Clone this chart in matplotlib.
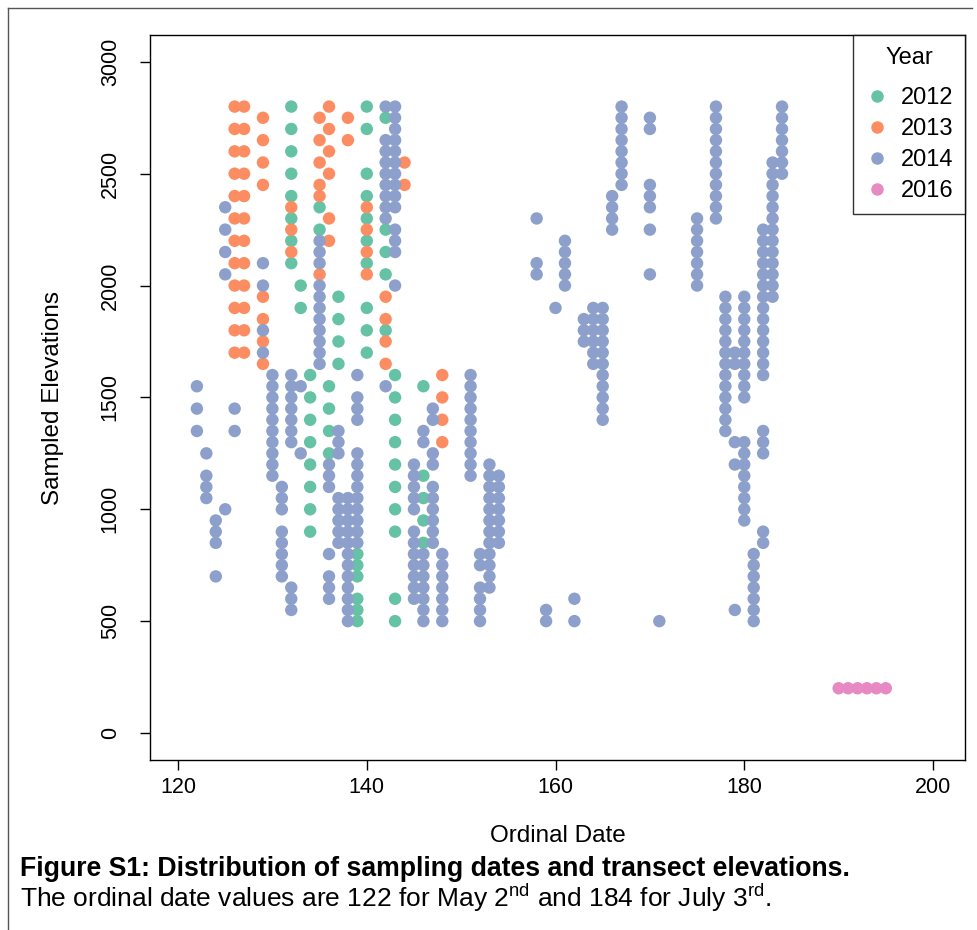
import matplotlib
matplotlib.use("Agg")
import matplotlib.pyplot as plt
from matplotlib.lines import Line2D

plt.rcParams['font.family'] = ['Liberation Sans', 'DejaVu Sans']
plt.rcParams['mathtext.fontset'] = 'custom'
plt.rcParams['mathtext.rm'] = 'Liberation Sans'

# elevations sampled on each ordinal date, per year
year_2012 = {
    132: [2800, 2700, 2600, 2500, 2400, 2300, 2200, 2100],
    133: [2000, 1900],
    134: [1600, 1500, 1400, 1300, 1200, 1100, 1000, 900],
    135: [2350, 2250],
    136: [1550, 1450, 1350, 1250],
    137: [1950, 1850, 1750, 1650],
    139: [800, 750, 700, 600, 550, 500],
    140: [2800, 2700, 2500, 2400, 2300, 2200, 2100, 1900, 1800, 1700],
    142: [2750, 2250, 2150, 2050, 1800],
    143: [1600, 1500, 1400, 1300, 1200, 1100, 1000, 900, 600, 500],
    146: [1550, 1150, 1050, 950, 850],
}

year_2013 = {
    126: [2800, 2700, 2600, 2500, 2400, 2300, 2200, 2100, 2000, 1900, 1800, 1700],
    127: [2800, 2700, 2600, 2500, 2400, 2300, 2200, 2100, 2000, 1900, 1800, 1700],
    129: [2750, 2650, 2550, 2450, 1950, 1850, 1750, 1650],
    132: [2350, 2250, 2150],
    135: [2750, 2650, 2550, 2450, 2400, 2050],
    136: [2800, 2700, 2600, 2500, 2300, 2200],
    138: [2750, 2650],
    140: [2350, 2250, 2150, 2050],
    142: [1950, 1850, 1750, 1650],
    144: [2550, 2450],
    148: [1600, 1500, 1400, 1300],
}

year_2014 = {
    122: [1550, 1450, 1350],
    123: [1250, 1150, 1100, 1050],
    124: [950, 900, 850, 700],
    125: [2350, 2250, 2150, 2050, 1000],
    126: [1450, 1350],
    129: [2100, 2000, 1800, 1700],
    130: [1600, 1550, 1500, 1450, 1400, 1350, 1300, 1250, 1200, 1150],
    131: [1100, 1050, 1000, 900, 850, 800, 750, 700],
    132: [1600, 1550, 1500, 1450, 1400, 1350, 1300, 650, 600, 550],
    133: [1550, 1250],
    135: [2200, 2150, 2100, 2000, 1950, 1900, 1850, 1800, 1750, 1700, 1650],
    136: [1200, 1150, 1100, 800, 700, 650, 600],
    137: [1350, 1300, 1250, 1050, 1000, 950, 900, 850],
    138: [1050, 1000, 950, 900, 850, 800, 750, 700, 650, 600, 550, 500],
    139: [1600, 1500, 1450, 1400, 1250, 1200, 1150, 1100, 1050, 1000, 950, 900, 850],
    142: [2800, 2650, 2600, 2550, 2500, 2450, 2400, 2350, 2300, 1550],
    143: [2800, 2750, 2700, 2650, 2600, 2550, 2500, 2450, 2400, 2350, 2250, 2200, 2150, 2000],
    145: [1200, 1150, 1100, 1050, 1000, 900, 850, 800, 750, 700, 650, 600],
    146: [1350, 1300, 800, 750, 700, 650, 600, 550, 500],
    147: [1450, 1400, 1250, 1200, 1100, 1050, 1000, 950, 900, 850],
    148: [800, 750, 700, 650, 600, 550, 500],
    151: [1600, 1550, 1500, 1450, 1400, 1350, 1300, 1250, 1200, 1150],
    152: [800, 750, 650, 600, 550, 500],
    153: [1200, 1150, 1100, 1050, 1000, 950, 900, 850, 800, 750, 700, 650],
    154: [1150, 1100, 1050, 1000, 950, 900, 850],
    158: [2300, 2100, 2050],
    159: [550, 500],
    160: [1900],
    161: [2200, 2150, 2100, 2050, 2000],
    162: [600, 500],
    163: [1850, 1800, 1750],
    164: [1900, 1850, 1800, 1750, 1700, 1650],
    165: [1900, 1850, 1800, 1750, 1700, 1650, 1600, 1550, 1500, 1450, 1400],
    166: [2400, 2350, 2300, 2250],
    167: [2800, 2750, 2700, 2650, 2600, 2550, 2500, 2450],
    170: [2750, 2700, 2450, 2400, 2350, 2250, 2050],
    171: [500],
    175: [2300, 2250, 2200, 2150, 2100, 2050, 2000],
    177: [2800, 2750, 2700, 2650, 2600, 2550, 2500, 2450, 2400, 2350, 2300],
    178: [1950, 1900, 1850, 1800, 1750, 1700, 1650, 1600, 1550, 1500, 1450, 1400, 1350],
    179: [1700, 1650, 1300, 1200, 550],
    180: [1950, 1900, 1850, 1800, 1750, 1700, 1650, 1600, 1550, 1500,
          1300, 1250, 1200, 1150, 1100, 1050, 1000, 950],
    181: [800, 750, 700, 650, 600, 550, 500],
    182: [2250, 2200, 2150, 2100, 2050, 2000, 1950, 1900, 1850, 1800, 1750, 1700,
          1650, 1600, 1350, 1300, 1250, 900, 850],
    183: [2550, 2500, 2450, 2400, 2350, 2300, 2250, 2200, 2150, 2100, 2050, 2000, 1950],
    184: [2800, 2750, 2700, 2650, 2600, 2550, 2500],
}

year_2016 = {
    190: [200], 191: [200], 192: [200], 193: [200], 194: [200], 195: [200],
}

years = ["2012", "2013", "2014", "2016"]
colors = ["#66C2A5", "#FC8D62", "#8DA0CB", "#E78AC3"]
samples = [year_2012, year_2013, year_2014, year_2016]

fig = plt.figure(figsize=(9.78, 9.30), dpi=100)
ax = fig.add_axes([150 / 978, 1 - 760 / 930, 815 / 978, 725 / 930])

for data, col in zip(samples, colors):
    xs = [d for d, elev in data.items() for e in elev]
    ys = [e for d, elev in data.items() for e in elev]
    ax.scatter(xs, ys, s=80, color=col, edgecolors='none', zorder=3)

ax.set_xlim(117.03, 203.39)
ax.set_ylim(-120.7, 3120)
ax.set_xticks([120, 140, 160, 180, 200])
ax.set_yticks([0, 500, 1000, 1500, 2000, 2500, 3000])
ax.tick_params(labelsize=15.5, length=7, width=1)
ax.tick_params(axis='x', pad=5)
ax.tick_params(axis='y', pad=14)
plt.setp(ax.get_yticklabels(), rotation=90, va='center')
for sp in ax.spines.values():
    sp.set_linewidth(1)

ax.set_xlabel("Ordinal Date", fontsize=17.5, labelpad=20)
ax.set_ylabel("Sampled Elevations", fontsize=17.5, labelpad=26)

handles = [Line2D([], [], marker='o', linestyle='none', markersize=9,
                  markerfacecolor=c, markeredgecolor='none') for c in colors]
leg = ax.legend(handles, years, title="Year", loc='upper right', fontsize=17,
                title_fontsize=17, frameon=True, fancybox=False, borderaxespad=0,
                handletextpad=0.5, labelspacing=0.38, borderpad=0.5, handlelength=1.0)
leg.get_frame().set_edgecolor('black')
leg.get_frame().set_linewidth(1)
leg._legend_box.sep = 13

fig.text(20 / 978, 1 - 869 / 930, "Figure S1: Distribution of sampling dates and transect elevations.",
         fontsize=19.2, fontweight='bold', va='center', ha='left')
fig.text(20 / 978, 1 - 898 / 930,
         r"The ordinal date values are 122 for May 2$^{\mathrm{nd}}$ and 184 for July 3$^{\mathrm{rd}}$.",
         fontsize=19, va='center', ha='left')

# thin page border
fig.add_artist(Line2D([8 / 978, 8 / 978], [0, 1 - 8 / 930], color='#555555', lw=1))
fig.add_artist(Line2D([8 / 978, 972 / 978], [1 - 8 / 930, 1 - 8 / 930], color='#555555', lw=1))

fig.savefig("out.png", dpi=100)
